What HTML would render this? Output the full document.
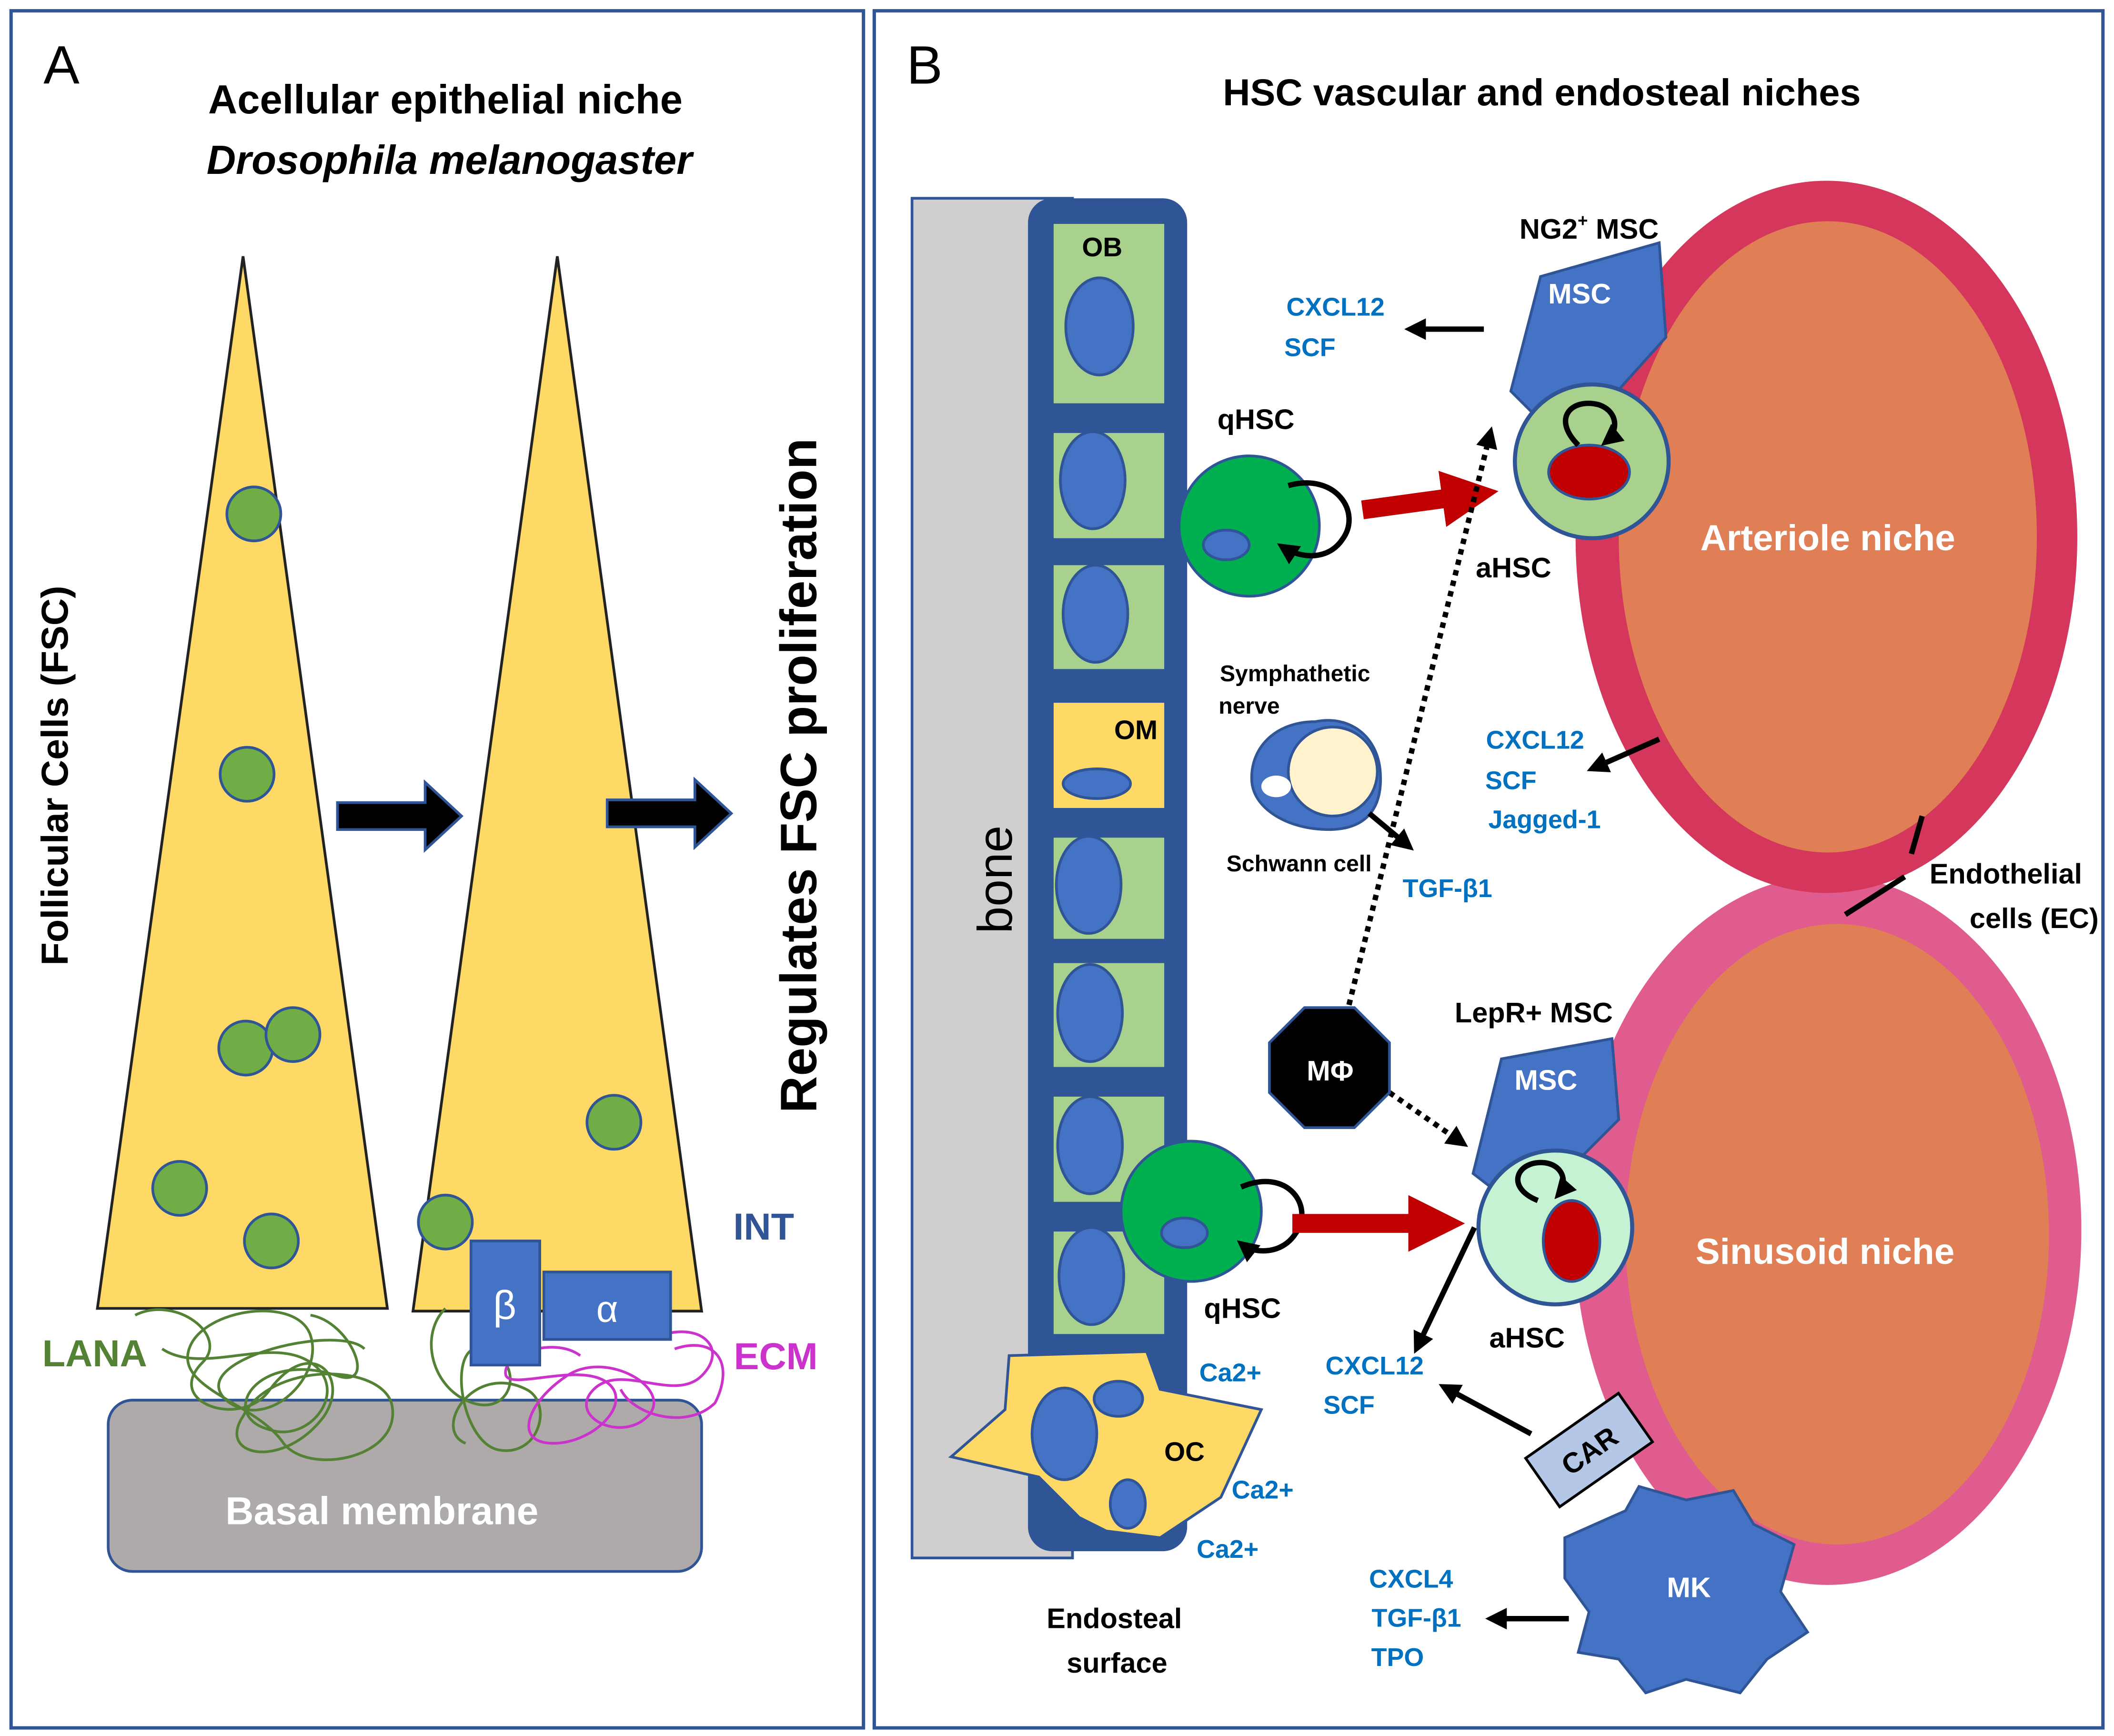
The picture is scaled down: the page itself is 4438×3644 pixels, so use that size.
<!DOCTYPE html>
<html><head><meta charset="utf-8"><style>
html,body{margin:0;padding:0;background:#fff}
svg{display:block}
text{font-family:"Liberation Sans",sans-serif;font-weight:bold}
.b{fill:#0070C0;font-size:19px}
</style></head><body>
<svg width="4438" height="3644" viewBox="0 0 1567 1287" xmlns="http://www.w3.org/2000/svg">
<defs>
<marker id="ah2" markerWidth="4" markerHeight="4" refX="3" refY="2" orient="auto" markerUnits="strokeWidth"><path d="M0,0 L4,2 L0,4 z" fill="#000"/></marker>
<marker id="ar" markerWidth="3" markerHeight="3" refX="1.5" refY="1.5" orient="auto" markerUnits="strokeWidth"><path d="M0,0 L3,1.5 L0,3 z" fill="#C00000"/></marker>
</defs>
<rect width="1567" height="1287" fill="#fff"/>
<!-- Panel A -->
<rect x="8" y="8" width="632" height="1273" fill="none" stroke="#2F5597" stroke-width="2.5"/>
<text x="32" y="62" font-size="40" style="font-weight:normal">A</text>
<text x="330" y="84" font-size="30" text-anchor="middle">Acellular epithelial niche</text>
<text x="333" y="129" font-size="30" text-anchor="middle" font-style="italic">Drosophila melanogaster</text>
<polygon points="180,190 72,970 287,970" fill="#FFD966" stroke="#222" stroke-width="2"/>
<polygon points="413,190 306,972 520,972" fill="#FFD966" stroke="#222" stroke-width="2"/>
<g fill="#70AD47" stroke="#2F5597" stroke-width="2">
<circle cx="188" cy="381" r="20"/><circle cx="183" cy="574" r="20"/><circle cx="182" cy="777" r="20"/><circle cx="217" cy="767" r="20"/><circle cx="133" cy="881" r="20"/><circle cx="201" cy="920" r="20"/><circle cx="455" cy="832" r="20"/><circle cx="330" cy="906" r="20"/>
</g>
<polygon points="250,595 315,595 315,580 342,605 315,630 315,615 250,615" fill="#000" stroke="#2F5597" stroke-width="2"/>
<polygon points="450,593 515,593 515,578 542,603 515,628 515,613 450,613" fill="#000" stroke="#2F5597" stroke-width="2"/>
<text transform="translate(605,575) rotate(-90)" font-size="38" text-anchor="middle">Regulates FSC proliferation</text>
<text transform="translate(50,575) rotate(-90)" font-size="28" text-anchor="middle">Follicular Cells (FSC)</text>
<rect x="80" y="1038" width="440" height="127" rx="18" fill="#AEAAAA" stroke="#2F5597" stroke-width="2"/>
<g fill="none" stroke="#548235" stroke-width="2">
<path d="M100,975 C130,960 170,990 150,1010 C120,1040 180,1060 200,1030 C230,990 260,1020 240,1050 C210,1090 160,1080 180,1050 C200,1010 280,1010 290,1040 C300,1080 230,1095 210,1070 C190,1040 130,1030 140,1000 C150,970 220,960 230,990 C240,1020 200,1060 170,1040 C130,1010 250,980 270,1000"/>
<path d="M120,1000 C150,1020 200,990 230,1010 C260,1030 230,1070 200,1060 C160,1050 190,1000 250,1020 C280,1030 260,980 230,975"/>
<path d="M330,970 C310,990 320,1030 350,1040 C380,1050 390,1010 360,1000 C330,990 340,1070 370,1075 C400,1080 410,1040 390,1030 C350,1010 320,1060 345,1070"/>
</g>
<g fill="none" stroke="#CC33CC" stroke-width="2">
<path d="M490,990 C520,980 540,1000 520,1020 C500,1040 460,1010 440,1030 C420,1050 460,1070 480,1050 C500,1030 450,1000 420,1020 C390,1040 380,1070 410,1070 C440,1070 470,1040 450,1025 C430,1010 380,1030 375,1020 C370,1005 410,990 430,1005"/>
<path d="M500,1000 C530,990 545,1010 530,1040 C510,1060 470,1050 460,1030"/>
</g>
<rect x="349" y="920" width="51" height="92" fill="#4472C4" stroke="#2F5597" stroke-width="2"/>
<rect x="403" y="943" width="94" height="50" fill="#4472C4" stroke="#2F5597" stroke-width="2"/>
<text x="374" y="978" font-size="30" fill="#fff" text-anchor="middle" style="font-weight:normal">β</text>
<text x="450" y="980" font-size="28" fill="#fff" text-anchor="middle" style="font-weight:normal">α</text>
<text x="70" y="1013" font-size="28" fill="#548235" text-anchor="middle">LANA</text>
<text x="575" y="1015" font-size="28" fill="#CC33CC" text-anchor="middle">ECM</text>
<text x="566" y="919" font-size="28" fill="#2F5597" text-anchor="middle">INT</text>
<text x="283" y="1130" font-size="29" fill="#fff" text-anchor="middle">Basal membrane</text>

<!-- Panel B -->
<rect x="648" y="8" width="911" height="1273" fill="none" stroke="#2F5597" stroke-width="2.5"/>
<text x="672" y="62" font-size="40" style="font-weight:normal">B</text>
<text x="1143" y="78" font-size="28" text-anchor="middle">HSC vascular and endosteal niches</text>
<rect x="676" y="147" width="119" height="1008" fill="#D0CECE" stroke="#2F5597" stroke-width="2"/>
<text transform="translate(750,652) rotate(-90)" font-size="36" text-anchor="middle" style="font-weight:normal">bone</text>
<rect x="762" y="147" width="118" height="1003" rx="18" fill="#2F5597"/>
<g stroke="#2F5597" stroke-width="2">
<rect x="780" y="165" width="84" height="135" fill="#A9D18E"/>
<rect x="780" y="320" width="84" height="80" fill="#A9D18E"/>
<rect x="780" y="418" width="84" height="79" fill="#A9D18E"/>
<rect x="780" y="520" width="84" height="80" fill="#FFD966"/>
<rect x="780" y="620" width="84" height="77" fill="#A9D18E"/>
<rect x="780" y="713" width="84" height="79" fill="#A9D18E"/>
<rect x="780" y="812" width="84" height="80" fill="#A9D18E"/>
<rect x="780" y="912" width="84" height="78" fill="#A9D18E"/>
</g>
<g fill="#4472C4" stroke="#2F5597" stroke-width="2">
<ellipse cx="815" cy="242" rx="25" ry="36"/><ellipse cx="810" cy="356" rx="24" ry="36"/><ellipse cx="812" cy="455" rx="24" ry="36"/>
<ellipse cx="813" cy="581" rx="25" ry="11"/><ellipse cx="807" cy="656" rx="24" ry="36"/><ellipse cx="808" cy="751" rx="24" ry="36"/>
<ellipse cx="808" cy="849" rx="24" ry="36"/><ellipse cx="809" cy="946" rx="24" ry="36"/>
</g>
<text x="817" y="190" font-size="20" text-anchor="middle">OB</text>
<text x="842" y="548" font-size="20" text-anchor="middle">OM</text>
<polygon points="748,1005 850,1002 860,1030 935,1045 905,1110 860,1140 820,1135 800,1125 770,1095 705,1080 745,1045" fill="#FFD966" stroke="#2F5597" stroke-width="2"/>
<g fill="#4472C4" stroke="#2F5597" stroke-width="2">
<ellipse cx="789" cy="1063" rx="24" ry="34"/><ellipse cx="829" cy="1037" rx="18" ry="13"/><ellipse cx="836" cy="1115" rx="13" ry="18"/>
</g>
<text x="878" y="1083" font-size="20" text-anchor="middle">OC</text>
<text x="912" y="1024" class="b" text-anchor="middle">Ca2+</text>
<text x="936" y="1111" class="b" text-anchor="middle">Ca2+</text>
<text x="910" y="1155" class="b" text-anchor="middle">Ca2+</text>
<text x="826" y="1207" font-size="21" text-anchor="middle">Endosteal</text>
<text x="828" y="1240" font-size="21" text-anchor="middle">surface</text>

<!-- vessels -->
<ellipse cx="1355" cy="912" rx="188" ry="263" fill="#E05C8E"/>
<ellipse cx="1362" cy="915" rx="157" ry="230" fill="#E07F55"/>
<ellipse cx="1354" cy="398" rx="186" ry="264" fill="#D5365B"/>
<ellipse cx="1355" cy="398" rx="155" ry="234" fill="#E07F55"/>
<text x="1355" y="408" font-size="27" fill="#fff" text-anchor="middle">Arteriole niche</text>
<text x="1353" y="937" font-size="27" fill="#fff" text-anchor="middle">Sinusoid  niche</text>
<line x1="1425" y1="605" x2="1417" y2="633" stroke="#000" stroke-width="4"/>
<line x1="1412" y1="650" x2="1368" y2="678" stroke="#000" stroke-width="4"/>
<text x="1487" y="655" font-size="21" text-anchor="middle">Endothelial</text>
<text x="1508" y="688" font-size="21" text-anchor="middle">cells (EC)</text>

<!-- MSCs -->
<polygon points="1142,205 1230,180 1235,250 1190,300 1140,310 1120,290" fill="#4472C4" stroke="#2F5597" stroke-width="2"/>
<text x="1171" y="225" font-size="21" fill="#fff" text-anchor="middle">MSC</text>
<text x="1178" y="177" font-size="21" text-anchor="middle">NG2<tspan dy="-9" font-size="13">+</tspan><tspan dy="9"> MSC</tspan></text>
<polygon points="1113,785 1195,770 1200,830 1160,870 1105,880 1092,870" fill="#4472C4" stroke="#2F5597" stroke-width="2"/>
<text x="1146" y="808" font-size="21" fill="#fff" text-anchor="middle">MSC</text>
<text x="1137" y="758" font-size="21" text-anchor="middle">LepR+ MSC</text>

<!-- aHSC -->
<circle cx="1180" cy="342" r="57" fill="#A9D18E" stroke="#2F5597" stroke-width="3"/>
<ellipse cx="1178" cy="350" rx="30" ry="20" fill="#C00000" stroke="#2F5597" stroke-width="2"/>
<path d="M1170,330 C1150,310 1165,295 1185,300 C1200,305 1200,320 1190,328" fill="none" stroke="#000" stroke-width="4" marker-end="url(#ah2)"/>
<text x="1122" y="428" font-size="21" text-anchor="middle">aHSC</text>
<circle cx="1153" cy="910" r="57" fill="#C5F2D3" stroke="#2F5597" stroke-width="3"/>
<ellipse cx="1165" cy="920" rx="21" ry="30" fill="#C00000" stroke="#2F5597" stroke-width="2"/>
<path d="M1140,890 C1115,880 1125,860 1145,862 C1160,864 1162,878 1155,886" fill="none" stroke="#000" stroke-width="4" marker-end="url(#ah2)"/>
<text x="1132" y="999" font-size="21" text-anchor="middle">aHSC</text>

<!-- qHSC -->
<circle cx="926" cy="390" r="52" fill="#00B050" stroke="#2F5597" stroke-width="2"/>
<ellipse cx="909" cy="404" rx="17" ry="11" fill="#4472C4" stroke="#2F5597" stroke-width="2"/>
<path d="M955,360 C990,350 1010,380 995,400 C985,415 965,415 950,405" fill="none" stroke="#000" stroke-width="4" marker-end="url(#ah2)"/>
<text x="931" y="318" font-size="21" text-anchor="middle">qHSC</text>
<circle cx="883" cy="898" r="52" fill="#00B050" stroke="#2F5597" stroke-width="2"/>
<ellipse cx="878" cy="914" rx="17" ry="11" fill="#4472C4" stroke="#2F5597" stroke-width="2"/>
<path d="M920,880 C955,865 975,895 960,915 C950,930 930,930 920,922" fill="none" stroke="#000" stroke-width="4" marker-end="url(#ah2)"/>
<text x="921" y="977" font-size="21" text-anchor="middle">qHSC</text>

<!-- red arrows -->
<line x1="1010" y1="378" x2="1090" y2="367" stroke="#C00000" stroke-width="14" marker-end="url(#ar)"/>
<line x1="958" y1="907" x2="1065" y2="907" stroke="#C00000" stroke-width="14" marker-end="url(#ar)"/>

<!-- labels -->
<text x="990" y="234" class="b" text-anchor="middle">CXCL12</text>
<text x="971" y="264" class="b" text-anchor="middle">SCF</text>
<line x1="1100" y1="244" x2="1045" y2="244" stroke="#000" stroke-width="4" marker-end="url(#ah2)"/>
<text x="1138" y="555" class="b" text-anchor="middle">CXCL12</text>
<text x="1120" y="585" class="b" text-anchor="middle">SCF</text>
<text x="1145" y="614" class="b" text-anchor="middle">Jagged-1</text>
<line x1="1230" y1="548" x2="1180" y2="570" stroke="#000" stroke-width="4" marker-end="url(#ah2)"/>

<!-- Schwann -->
<path d="M975,535 C1000,530 1020,545 1023,570 C1026,600 1012,615 985,615 C955,615 930,600 928,580 C926,555 945,535 975,535 Z" fill="#4472C4" stroke="#2F5597" stroke-width="2"/>
<circle cx="988" cy="572" r="33" fill="#FFF2CC" stroke="#2F5597" stroke-width="2"/>
<ellipse cx="946" cy="583" rx="11" ry="8" fill="#fff"/>
<text x="960" y="505" font-size="17" text-anchor="middle">Symphathetic</text>
<text x="926" y="529" font-size="17" text-anchor="middle">nerve</text>
<text x="963" y="646" font-size="17" text-anchor="middle">Schwann cell</text>
<line x1="1015" y1="603" x2="1045" y2="628" stroke="#000" stroke-width="4" marker-end="url(#ah2)"/>
<text x="1073" y="665" class="b" text-anchor="middle">TGF-β1</text>

<!-- dotted -->
<line x1="1000" y1="745" x2="1105" y2="320" stroke="#000" stroke-width="4" stroke-dasharray="4,4" marker-end="url(#ah2)"/>
<line x1="1030" y1="810" x2="1085" y2="848" stroke="#000" stroke-width="4" stroke-dasharray="4,4" marker-end="url(#ah2)"/>
<polygon points="967,747 1004,747 1030,773 1030,810 1004,836 967,836 941,810 941,773" fill="#000" stroke="#2F5597" stroke-width="2"/>
<text x="986" y="801" font-size="21" fill="#fff" text-anchor="middle">MΦ</text>

<!-- sinusoid side -->
<line x1="1093" y1="910" x2="1050" y2="1000" stroke="#000" stroke-width="4" marker-end="url(#ah2)"/>
<text x="1019" y="1019" class="b" text-anchor="middle">CXCL12</text>
<text x="1000" y="1048" class="b" text-anchor="middle">SCF</text>
<line x1="1135" y1="1063" x2="1070" y2="1028" stroke="#000" stroke-width="4" marker-end="url(#ah2)"/>
<g transform="translate(1178,1075) rotate(-35)"><rect x="-42" y="-22" width="84" height="44" fill="#B4C7E7" stroke="#000" stroke-width="2"/><text x="0" y="8" font-size="21" text-anchor="middle">CAR</text></g>
<polygon points="1160,1140 1205,1120 1215,1102 1250,1112 1285,1105 1300,1130 1330,1145 1320,1180 1340,1210 1310,1230 1290,1255 1250,1245 1220,1255 1200,1230 1170,1225 1178,1195 1160,1170" fill="#4472C4" stroke="#2F5597" stroke-width="2"/>
<text x="1252" y="1184" font-size="21" fill="#fff" text-anchor="middle">MK</text>
<line x1="1163" y1="1200" x2="1105" y2="1200" stroke="#000" stroke-width="4" marker-end="url(#ah2)"/>
<text x="1046" y="1177" class="b" text-anchor="middle">CXCL4</text>
<text x="1050" y="1206" class="b" text-anchor="middle">TGF-β1</text>
<text x="1036" y="1235" class="b" text-anchor="middle">TPO</text>
</svg>
</body></html>
